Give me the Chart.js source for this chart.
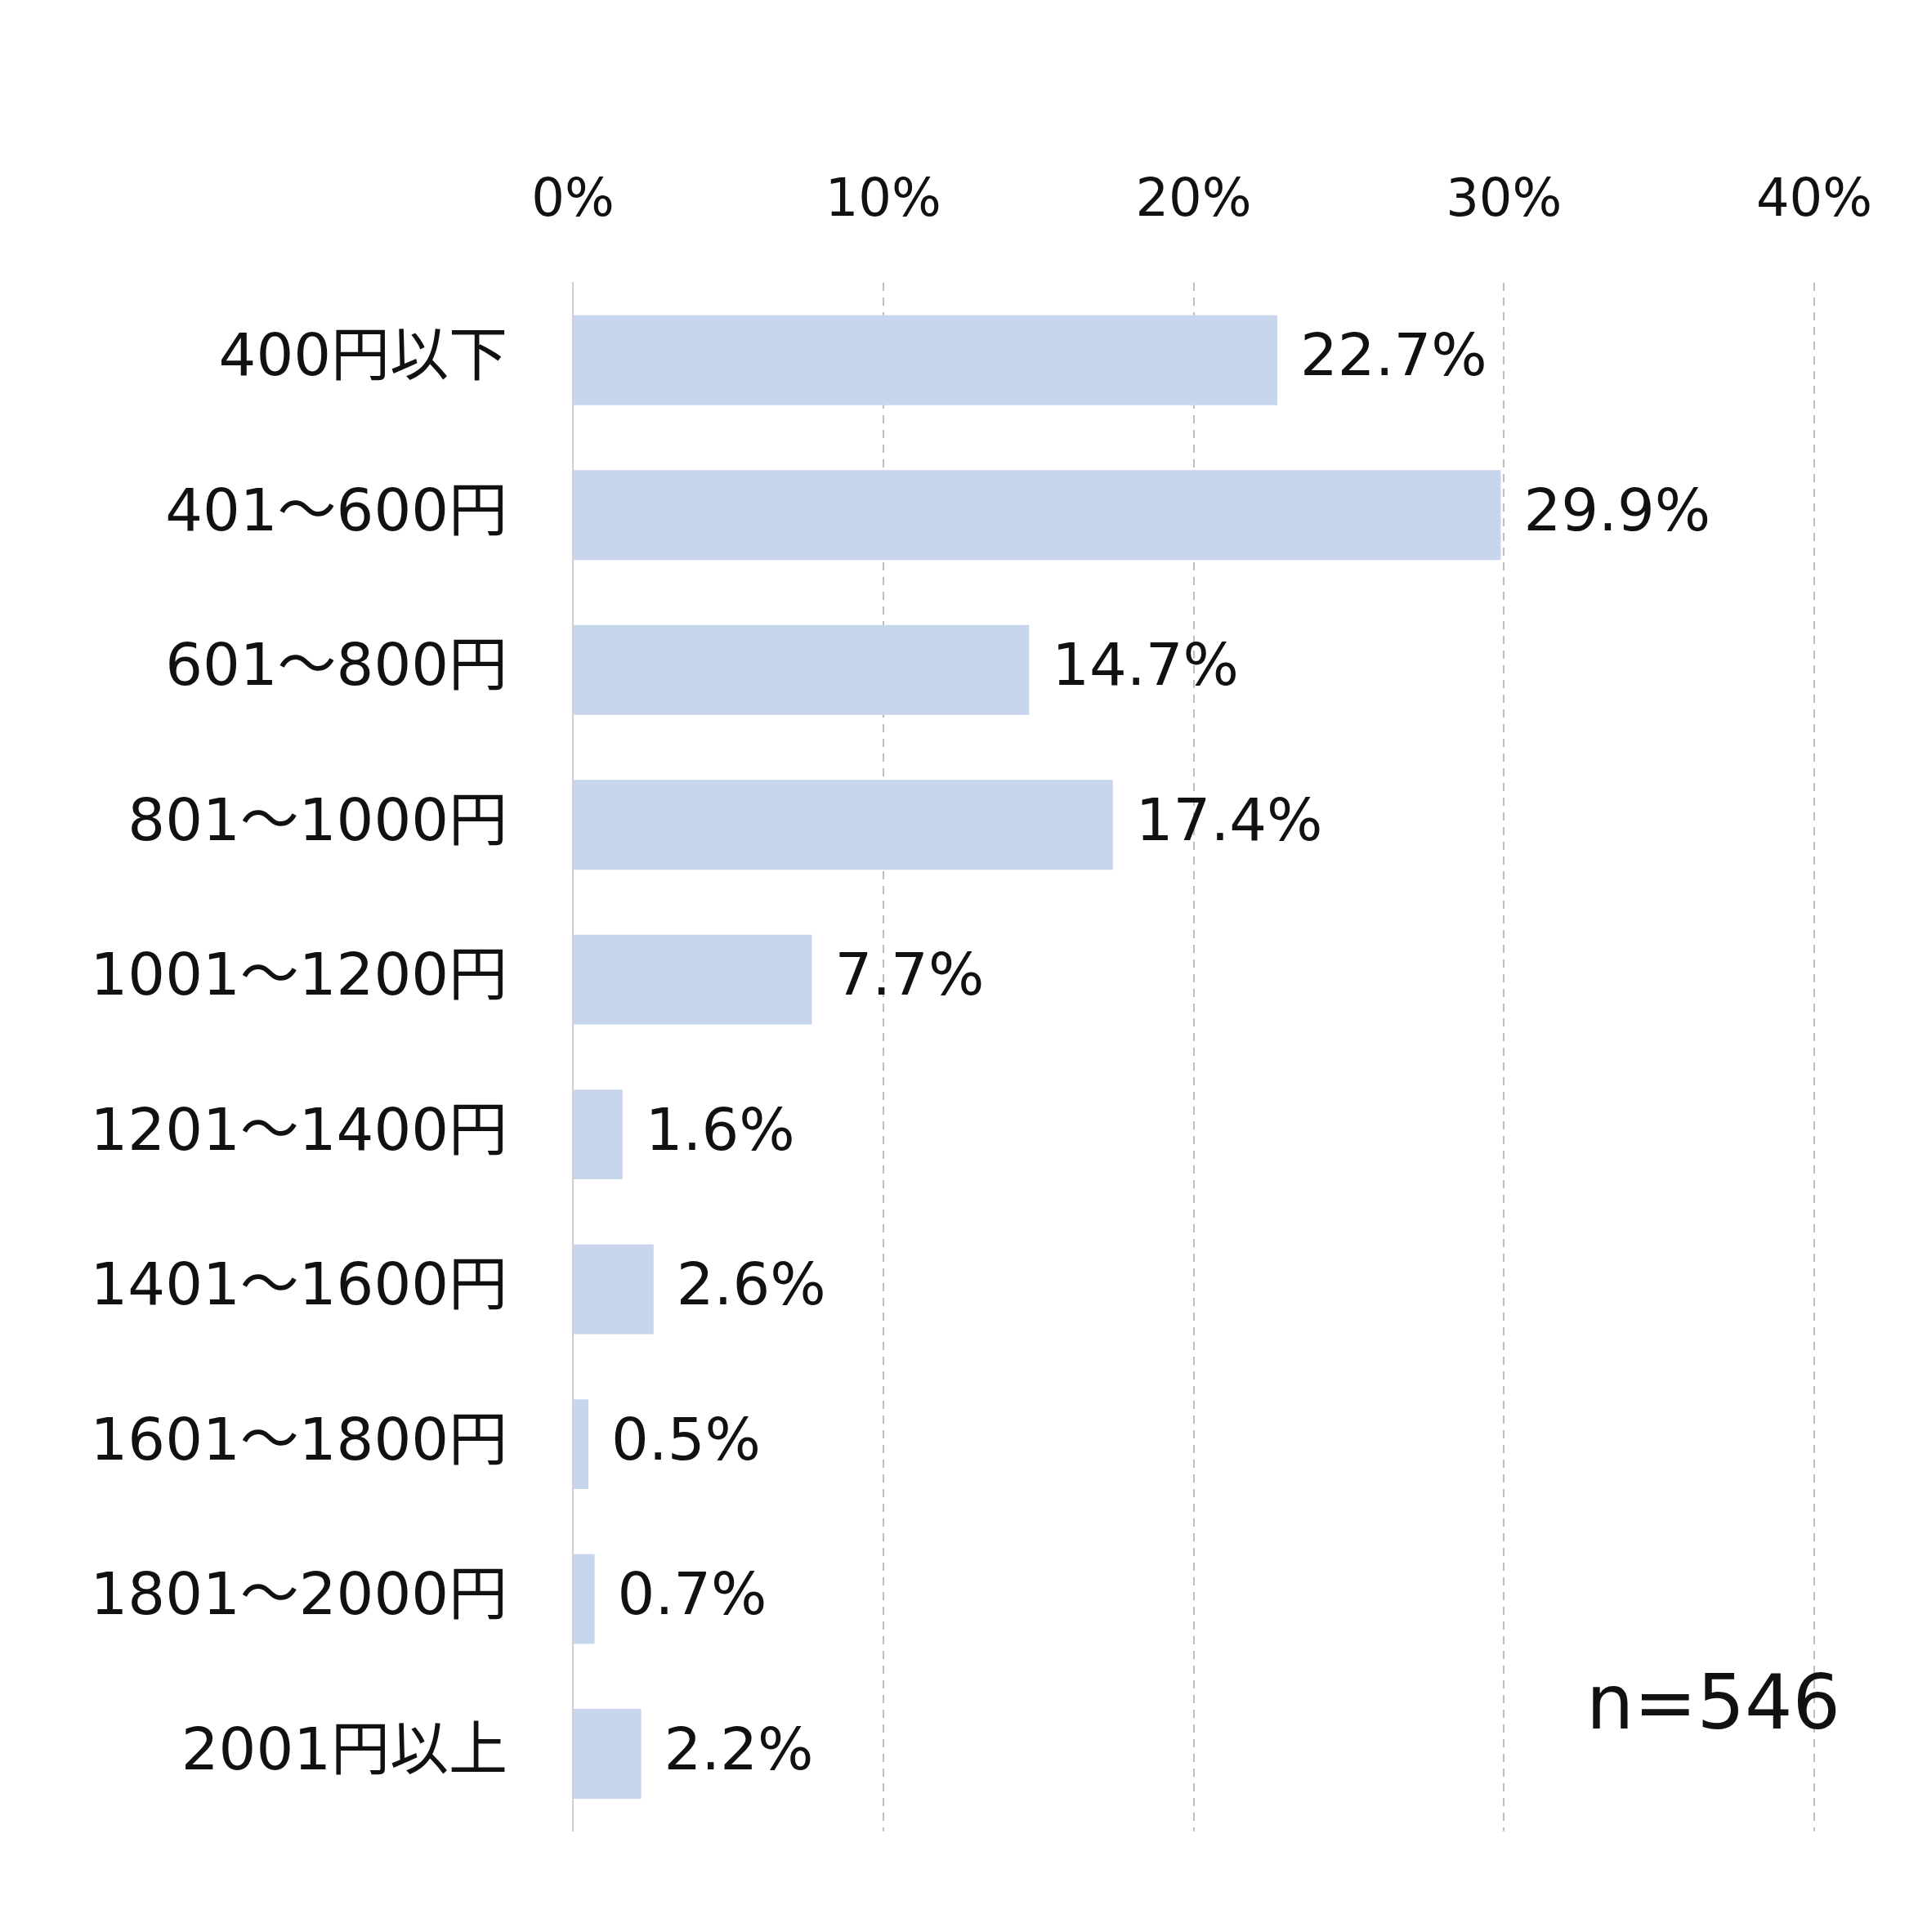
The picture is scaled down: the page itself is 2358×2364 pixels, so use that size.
<!DOCTYPE html>
<html>
<head>
<meta charset="utf-8">
<script src="https://cdn.jsdelivr.net/npm/chart.js@4/dist/chart.umd.min.js"></script>
<style>
  html, body { margin: 0; padding: 0; background: #fff; }
  #wrap { width: 2358px; height: 2364px; }
</style>
</head>
<body>
<div id="wrap"><canvas id="chart"></canvas></div>
<script>
// Price ranges and share of respondents
const categories = ['400円以下', '401～600円', '601～800円', '801～1000円', '1001～1200円',
    '1201～1400円', '1401～1600円', '1601～1800円', '1801～2000円', '2001円以上'];
const shares = [22.7, 29.9, 14.7, 17.4, 7.7, 1.6, 2.6, 0.5, 0.7, 2.2];
const tickValues = [0, 10, 20, 30, 40];
const sampleNote = 'n=546';

const FONT = '"DejaVu Sans", "Noto Sans CJK JP", sans-serif';

// Value labels at bar ends + sample size note
const labelPlugin = {
    id: 'valueLabels',
    afterDatasetsDraw(chart) {
        const ctx = chart.ctx;
        const meta = chart.getDatasetMeta(0);
        ctx.save();
        ctx.font = '72px ' + FONT;
        ctx.fillStyle = '#111';
        ctx.textBaseline = 'middle';
        ctx.textAlign = 'left';
        meta.data.forEach((bar, i) => {
            ctx.fillText(shares[i].toFixed(1) + '%', bar.x + 28, bar.y);
        });
        const area = chart.chartArea;
        ctx.font = '92px ' + FONT;
        ctx.textAlign = 'right';
        ctx.fillText(sampleNote, area.right + 32, chart.scales.y.getPixelForValue(9) - 55);
        ctx.restore();
    }
};

new Chart(document.getElementById('chart'), {
    type: 'bar',
    data: {
        labels: categories,
        datasets: [{
            data: shares,
            backgroundColor: '#c7d5ed',
            barPercentage: 0.58,
            categoryPercentage: 1
        }]
    },
    options: {
        indexAxis: 'y',
        responsive: true,
        maintainAspectRatio: false,
        animation: false,
        layout: { padding: { top: 0, right: 138, bottom: -20, left: 0 } },
        plugins: { legend: { display: false }, tooltip: { enabled: false } },
        scales: {
            x: {
                position: 'top',
                min: 0,
                max: 40,
                afterFit(scale) { scale.height = 346; },
                afterBuildTicks(scale) { scale.ticks = tickValues.map(v => ({ value: v })); },
                ticks: {
                    callback: v => v + '%',
                    color: '#111',
                    padding: 60,
                    font: { family: FONT, size: 64 }
                },
                grid: {
                    color: ctx => ctx.index === 0 ? 'rgba(0,0,0,0)' : '#bdbdbd',
                    lineWidth: 2,
                    drawTicks: false
                },
                border: { display: false, dash: [10, 8] }
            },
            y: {
                afterFit(scale) { scale.width = 701; },
                ticks: {
                    color: '#111',
                    padding: 80,
                    font: { family: FONT, size: 72 }
                },
                grid: { display: false, drawTicks: false },
                border: { display: true, color: '#cfcfcf', width: 2 }
            }
        }
    },
    plugins: [labelPlugin]
});
</script>
</body>
</html>
